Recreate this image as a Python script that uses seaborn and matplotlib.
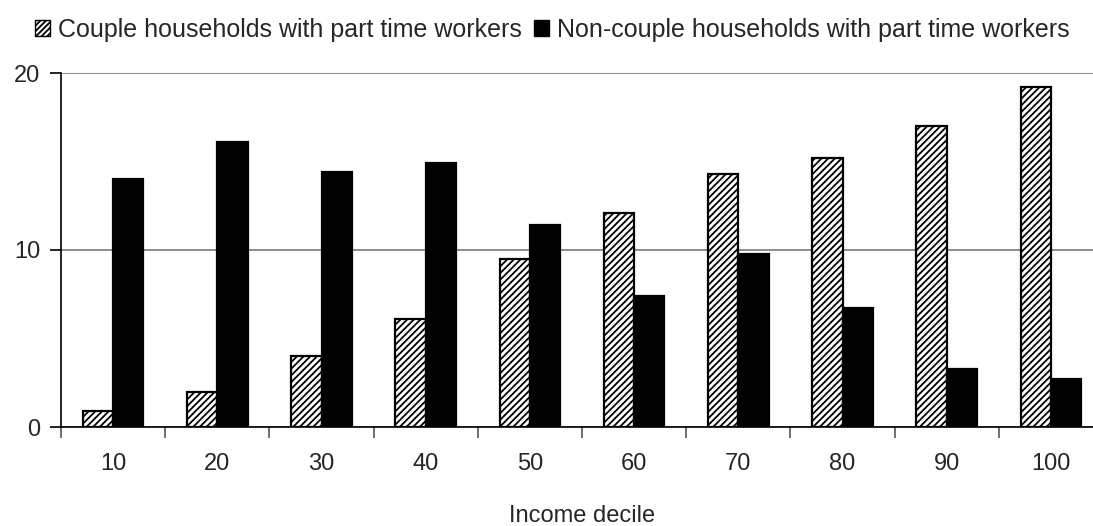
import matplotlib
matplotlib.use("Agg")
import matplotlib.pyplot as plt
from matplotlib.patches import Patch
from matplotlib.ticker import FixedLocator
import seaborn as sns
import pandas as pd
import numpy as np

# Share of households with part time workers, by income decile
deciles = ["10", "20", "30", "40", "50", "60", "70", "80", "90", "100"]
couple = [0.9, 2.0, 4.0, 6.1, 9.5, 12.1, 14.3, 15.2, 17.0, 19.2]
non_couple = [14.0, 16.1, 14.4, 14.9, 11.4, 7.4, 9.8, 6.7, 3.3, 2.7]
series_names = ["Couple households with part time workers",
                "Non-couple households with part time workers"]

df = pd.DataFrame({
    "decile": deciles * 2,
    "value": couple + non_couple,
    "series": [series_names[0]] * len(deciles) + [series_names[1]] * len(deciles),
})

sns.set_theme(style="white")
plt.rcParams["font.family"] = ["Liberation Sans", "DejaVu Sans"]
plt.rcParams["hatch.linewidth"] = 1.3
plt.rcParams["hatch.color"] = "#505050"

fig = plt.figure(figsize=(10.93, 5.26), dpi=100)
ax = fig.add_axes([61 / 1093, 99 / 526, 1042 / 1093, 354 / 526])

sns.barplot(data=df, x="decile", y="value", hue="series", order=deciles,
            hue_order=series_names, palette=["white", "black"],
            width=0.58, edgecolor="black", linewidth=1.6, saturation=1,
            legend=False, ax=ax)

hatch = "/////"
for bar in ax.containers[0]:
    bar.set_hatch(hatch)

ax.set_xlim(-0.5, len(deciles) - 0.5)
ax.set_ylim(0, 20)
ax.set_yticks([0, 10, 20])
ax.yaxis.grid(True, color="#7a7a7a", linewidth=1.2)
ax.set_axisbelow(True)

for side in ["top", "right"]:
    ax.spines[side].set_visible(False)
for side in ["left", "bottom"]:
    ax.spines[side].set_color("black")
    ax.spines[side].set_linewidth(1.2)

ax.tick_params(axis="y", which="major", direction="out", length=8, width=1.2,
               color="black", labelsize=17, pad=7, left=True)
ax.tick_params(axis="x", which="major", length=0, labelsize=17, pad=19)
ax.xaxis.set_minor_locator(FixedLocator(np.arange(-0.5, len(deciles), 1.0)))
ax.tick_params(axis="x", which="minor", direction="out", length=8, width=1.2,
               color="#555555", bottom=True)

ax.set_xlabel("Income decile", fontsize=17, labelpad=21)
ax.set_ylabel("")

handles = [Patch(facecolor="white", edgecolor="black", hatch="//////", linewidth=1.0),
           Patch(facecolor="black", edgecolor="black", linewidth=1.0)]
fig.legend(handles, series_names, loc="upper center", ncol=2, frameon=False,
           bbox_to_anchor=(552 / 1093, 1.0), fontsize=18,
           handlelength=0.62, handleheight=0.62, handletextpad=0.3,
           columnspacing=0.5, borderaxespad=0.3)

fig.savefig("out.png", dpi=100)
